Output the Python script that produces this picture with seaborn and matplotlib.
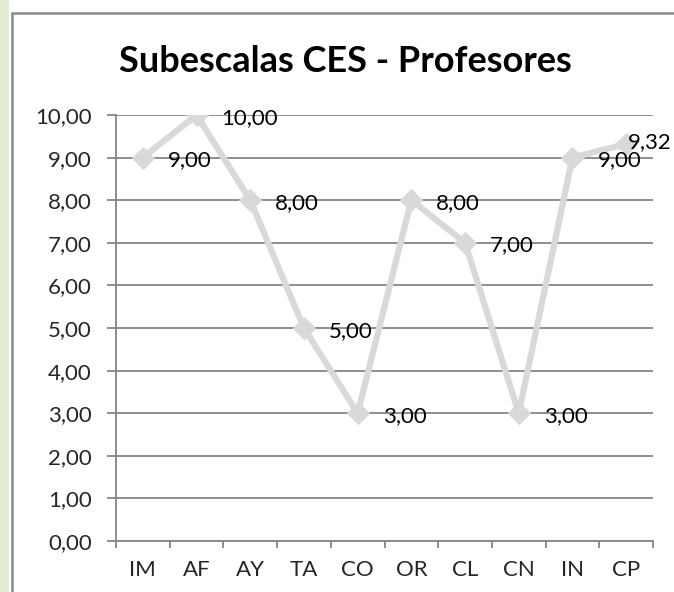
import matplotlib
matplotlib.use("Agg")
import matplotlib.pyplot as plt
import seaborn as sns
from matplotlib.patches import Rectangle
from matplotlib.lines import Line2D
from matplotlib.ticker import FixedLocator

# data
categories = ["IM", "AF", "AY", "TA", "CO", "OR", "CL", "CN", "IN", "CP"]
values = [9.00, 10.00, 8.00, 5.00, 3.00, 8.00, 7.00, 3.00, 9.00, 9.32]
y_ticks = [0, 1, 2, 3, 4, 5, 6, 7, 8, 9, 10]
title = "Subescalas CES - Profesores"

sns.set_theme(style="white")
plt.rcParams['font.family'] = ['Lato', 'DejaVu Sans']

fig = plt.figure(figsize=(6.74, 5.92), dpi=100)

# page decoration: light green stripe on the left, grey frame around the chart
fig.patches.append(Rectangle((0, 0), 9 / 674, 1, transform=fig.transFigure,
                             facecolor="#e3edd3", edgecolor="none", zorder=0))
fig.lines.append(Line2D([12 / 674, 12 / 674], [0, 1 - 13 / 592], transform=fig.transFigure,
                        color="#8c8c8c", lw=1.8))
fig.lines.append(Line2D([12 / 674, 1], [1 - 13 / 592, 1 - 13 / 592], transform=fig.transFigure,
                        color="#8c8c8c", lw=1.8))

ax = fig.add_axes([116 / 674, 51 / 592, 537 / 674, 426 / 592])

sns.lineplot(x=categories, y=values, ax=ax, color="#d9d9d9", linewidth=4.5,
             marker="D", markersize=11, markeredgecolor="#d9d9d9", zorder=3)

# data labels to the right of each point (the last one is pushed back by the edge)
for i, v in enumerate(values):
    off = (18, -2) if i < len(values) - 1 else (1, 1)
    ax.annotate(f"{v:.2f}".replace(".", ","), (i, v), xytext=off,
                textcoords="offset points", va="center", ha="left",
                fontsize=16, color="black", zorder=4, annotation_clip=False)

ax.set_xlim(-0.5, 9.5)
ax.set_ylim(0, 10)
ax.set_yticks(y_ticks)
ax.set_yticklabels([f"{t:.2f}".replace(".", ",") for t in y_ticks])
ax.set_xticks(range(len(categories)))
ax.set_xticklabels(categories)
ax.xaxis.set_minor_locator(FixedLocator([i - 0.5 for i in range(len(categories) + 1)]))

ax.grid(axis="y", color="#868686", linewidth=1.3)
ax.set_axisbelow(True)
for side in ["top", "right"]:
    ax.spines[side].set_visible(False)
for side in ["left", "bottom"]:
    ax.spines[side].set_color("#868686")
    ax.spines[side].set_linewidth(1.3)

ax.tick_params(axis="y", which="major", left=True, length=6.5, width=1.3, color="#868686",
               labelsize=16, pad=11)
ax.tick_params(axis="x", which="major", bottom=False, labelsize=16, pad=8)
ax.tick_params(axis="x", which="minor", bottom=True, length=5, width=1.3, color="#868686")
ax.set_xlabel("")
ax.set_ylabel("")

fig.text(345 / 674, 1 - 61 / 592, title, ha="center", va="center",
         fontsize=26, fontweight="bold", color="black")

fig.savefig("out.png", dpi=100, facecolor="white")
